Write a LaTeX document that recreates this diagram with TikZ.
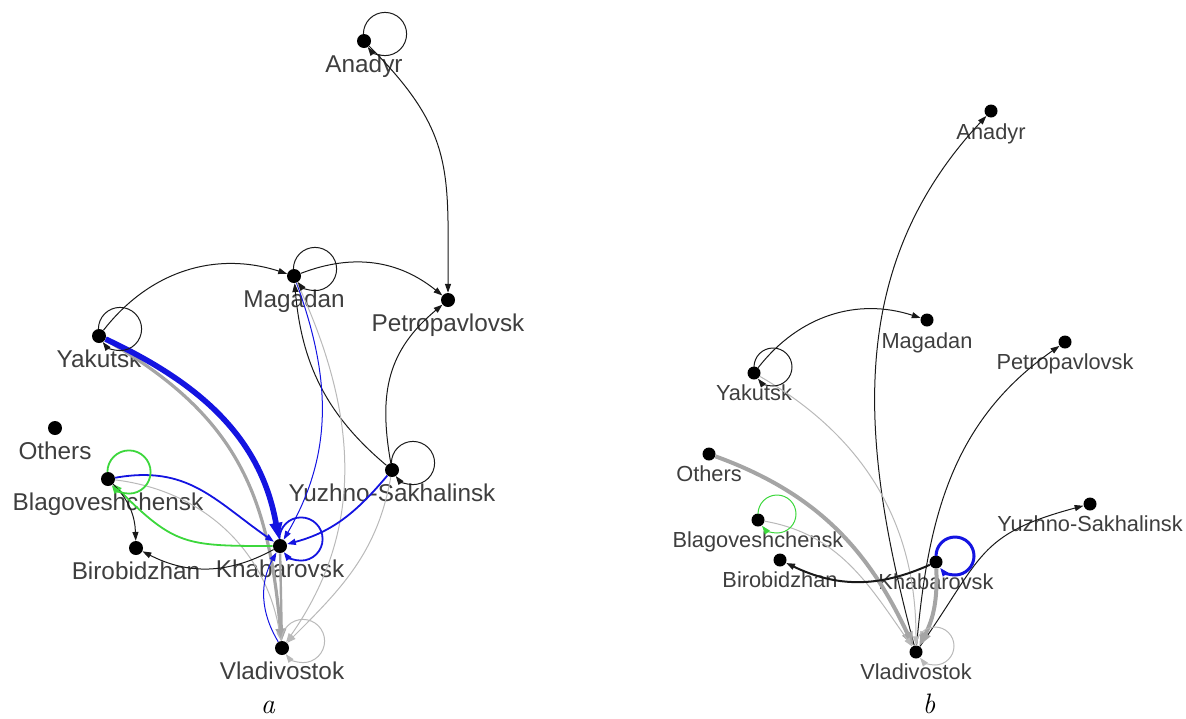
\documentclass[tikz,border=0pt]{standalone}
\usepackage{fontspec}
\newfontfamily\cityfont{Liberation Sans}
\usetikzlibrary{positioning,arrows.meta}
\definecolor{blu}{RGB}{20,20,225}
\definecolor{grn}{RGB}{60,215,60}
\definecolor{gry}{RGB}{165,165,165}
\definecolor{lgry}{RGB}{185,185,185}
\definecolor{txt}{RGB}{62,62,62}

\begin{document}
\begin{tikzpicture}[x=0.25mm, y=-0.25mm,
	city/.style={circle, fill=black, inner sep=0pt, minimum size=3.5mm},
	cityb/.style={city, minimum size=3.25mm},
	lbla/.style={anchor=base, inner sep=0pt, text=txt, font=\cityfont\fontsize{17.3}{20}\selectfont},
	lblb/.style={lbla, font=\cityfont\fontsize{15.5}{18}\selectfont},
	panel/.style={anchor=base, inner sep=0pt, font=\fontsize{20}{24}\selectfont\itshape},
	arr/.style={-{Triangle[length=2.2mm, width=1.5mm]}, line width=0.25mm},
	blk/.style={arr, draw=black!90},
	blkM/.style={blk, line width=0.5mm},
	bluA/.style={arr, draw=blu},
	bluB/.style={arr, draw=blu, line width=0.45mm},
	bluL/.style={arr, draw=blu, line width=0.75mm},
	bluT/.style={draw=blu, line width=1.4mm, -{Triangle[length=4mm, width=3mm]}},
	gryA/.style={arr, draw=lgry},
	gryM/.style={draw=gry, line width=0.6mm, -{Triangle[length=3mm, width=2.2mm]}},
	gryT/.style={gryM, line width=0.8mm},
	gryTb/.style={gryM, line width=1mm, -{Triangle[length=3.5mm, width=2.6mm]}},
	grnA/.style={arr, draw=grn, line width=0.45mm},
	grnB/.style={arr, draw=grn}]

	\useasboundingbox (0,0) rectangle (1186,718);

	% panel a
	\node[city] (ana) at (364,41) {};
	\node[city] (mag) at (294,276) {};
	\node[city] (pet) at (448,300) {};
	\node[city] (yak) at (99,336) {};
	\node[city] (oth) at (55,428) {};
	\node[city] (bla) at (108,479) {};
	\node[city] (yuz) at (392,470) {};
	\node[city] (bir) at (136,548) {};
	\node[city] (kha) at (280,546) {};
	\node[city] (vla) at (282,648) {};

	\node[lbla] (ana-t) at ([yshift=-7.75mm]ana.center) {Anadyr};
	\node[lbla] (mag-t) at ([yshift=-7.75mm]mag.center) {Magadan};
	\node[lbla] (pet-t) at ([yshift=-7.9mm]pet.center) {Petropavlovsk};
	\node[lbla] (yak-t) at ([yshift=-7.75mm]yak.center) {Yakutsk};
	\node[lbla] (oth-t) at ([yshift=-7.75mm]oth.center) {Others};
	\node[lbla] (bla-t) at ([yshift=-7.75mm]bla.center) {Blagoveshchensk};
	\node[lbla] (yuz-t) at ([yshift=-7.75mm]yuz.center) {Yuzhno-Sakhalinsk};
	\node[lbla] (bir-t) at ([yshift=-7.75mm]bir.center) {Birobidzhan};
	\node[lbla] (kha-t) at ([yshift=-7.75mm]kha.center) {Khabarovsk};
	\node[lbla] (vla-t) at ([yshift=-7.75mm]vla.center) {Vladivostok};
	\node[panel] (cap-a) at (268,713) {a};

	\draw[blk] (ana) to[out=-45, in=90, looseness=1.2] (pet);
	\draw[blk] (yak) to[bend left=35] (mag);
	\draw[blk] (mag) to[bend left=30] (pet);
	\draw[blk] (yuz) to[out=140, in=-85] (mag);
	\draw[blk] (yuz) to[out=100, in=-140, looseness=1.1] (pet);
	\draw[bluA] (mag) to[out=-70, in=60] (kha);
	\draw[gryA] (mag) to[out=-65, in=55] (vla);
	\draw[gryA] (yuz) to[out=-100, in=45] (vla);
	\draw[bluB] (yuz) to[out=-130, in=15] (kha);
	\draw[gryT] (yak) to[out=-30, in=95, looseness=1.1] (vla);
	\draw[bluT] (yak) to[out=-25, in=100] (kha);
	\draw[gryA] (bla) to[out=-7, in=99] (vla);
	\draw[bluB] (bla) to[out=10, in=145, looseness=1.1] (kha);
	\draw[grnA] (kha) to[out=180, in=-45, looseness=1.3] (bla);
	\draw[blk] (bla) to[out=-45, in=92] (bir);
	\draw[blk] (kha) to[bend left=28] (bir);
	\draw[gryM] (kha) -- (vla);
	\draw[bluA] (vla) to[bend left=30] (kha);

	\foreach \n/\s in {ana/blk, mag/blk, yak/blk, yuz/blk, bla/grnA, kha/bluB, vla/gryA}
		\draw[\s] ([shift={(21,-7)}]\n.center) ++(180:5.4mm) arc[start angle=180, end angle=-143, radius=5.4mm];

	% panel b
	\node[cityb] (ana2) at (991,111) {};
	\node[cityb] (mag2) at (927,320) {};
	\node[cityb] (pet2) at (1065,342) {};
	\node[cityb] (yak2) at (754,373) {};
	\node[cityb] (oth2) at (709,454) {};
	\node[cityb] (bla2) at (758,520) {};
	\node[cityb] (yuz2) at (1090,504) {};
	\node[cityb] (bir2) at (780,560) {};
	\node[cityb] (kha2) at (936,562) {};
	\node[cityb] (vla2) at (916,652) {};

	\node[lblb] (ana2-t) at ([yshift=-7mm]ana2.center) {Anadyr};
	\node[lblb] (mag2-t) at ([yshift=-7mm]mag2.center) {Magadan};
	\node[lblb] (pet2-t) at ([yshift=-6.75mm]pet2.center) {Petropavlovsk};
	\node[lblb] (yak2-t) at ([yshift=-6.9mm]yak2.center) {Yakutsk};
	\node[lblb] (oth2-t) at ([yshift=-6.9mm]oth2.center) {Others};
	\node[lblb] (bla2-t) at ([yshift=-6.9mm]bla2.center) {Blagoveshchensk};
	\node[lblb] (yuz2-t) at ([yshift=-6.9mm]yuz2.center) {Yuzhno-Sakhalinsk};
	\node[lblb] (bir2-t) at ([yshift=-6.9mm]bir2.center) {Birobidzhan};
	\node[lblb] (kha2-t) at ([yshift=-6.9mm]kha2.center) {Khabarovsk};
	\node[lblb] (vla2-t) at ([yshift=-6.9mm]vla2.center) {Vladivostok};
	\node[panel] (cap-b) at (929,713) {b};

	\draw[blk] (vla2) to[out=105, in=-133] (ana2);
	\draw[blk] (vla2) to[out=85, in=-145] (pet2);
	\draw[blk] (vla2) to[out=55, in=-165, looseness=1.3] (yuz2);
	\draw[blk] (yak2) to[bend left=35] (mag2);
	\draw[gryA] (yak2) to[out=-30, in=90] (vla2);
	\draw[gryTb] (oth2) to[out=-20, in=115] (vla2);
	\draw[gryA] (bla2) to[out=-10, in=125] (vla2);
	\draw[blkM] (kha2) to[bend left=25] (bir2);
	\draw[gryTb] (kha2) to[bend left=15] (vla2);

	\foreach \n/\s in {yak2/blk, bla2/grnB, kha2/bluL, vla2/gryA}
		\draw[\s] ([shift={(19,-6)}]\n.center) ++(180:4.75mm) arc[start angle=180, end angle=-142, radius=4.75mm];

\end{tikzpicture}
\end{document}
